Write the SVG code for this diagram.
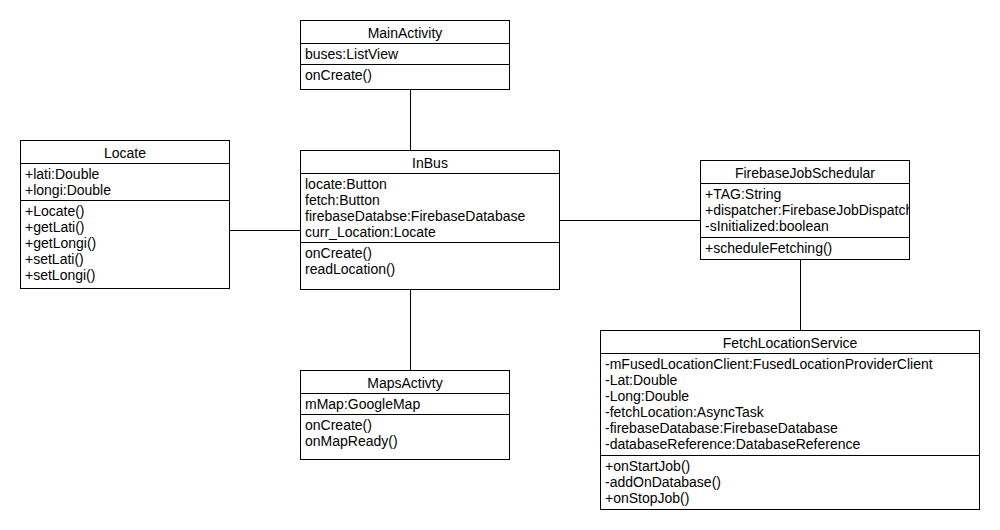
<svg xmlns="http://www.w3.org/2000/svg" width="1000" height="530" viewBox="0 0 1000 530">
  <style>
    .box { fill: #ffffff; stroke: #000000; stroke-width: 1; }
    .sep { stroke: #000000; stroke-width: 1; }
    .conn { stroke: #000000; stroke-width: 1; fill: none; }
    text { font-family: "Liberation Sans", Arial, sans-serif; font-size: 14px; fill: #000000; }
    .title { text-anchor: middle; }
  </style>
  <defs>
    <clipPath id="clipFjs">
      <rect x="700" y="160" width="209" height="99"/>
    </clipPath>
  </defs>
  <rect x="0" y="0" width="1000" height="530" fill="#ffffff"/>

  <!-- associations -->
  <g id="connectors">
    <line class="conn" x1="410.5" y1="90" x2="410.5" y2="150"/>
    <line class="conn" x1="410.5" y1="289" x2="410.5" y2="370"/>
    <line class="conn" x1="229" y1="230.5" x2="300" y2="230.5"/>
    <line class="conn" x1="559" y1="220.5" x2="700" y2="220.5"/>
    <line class="conn" x1="800.5" y1="259" x2="800.5" y2="330"/>
  </g>

  <g id="MainActivity">
    <rect class="box" x="300.5" y="20.5" width="209" height="69"/>
    <line class="sep" x1="300.5" y1="43.5" x2="509.5" y2="43.5"/>
    <line class="sep" x1="300.5" y1="64.5" x2="509.5" y2="64.5"/>
    <text class="title" x="405" y="38">MainActivity</text>
    <text x="305" y="59">buses:ListView</text>
    <text x="305" y="80">onCreate()</text>
  </g>

  <g id="Locate">
    <rect class="box" x="20.5" y="140.5" width="209" height="148"/>
    <line class="sep" x1="20.5" y1="163.5" x2="229.5" y2="163.5"/>
    <line class="sep" x1="20.5" y1="200.5" x2="229.5" y2="200.5"/>
    <text class="title" x="125" y="158">Locate</text>
    <text x="25" y="179">+lati:Double</text>
    <text x="25" y="195">+longi:Double</text>
    <text x="25" y="216">+Locate()</text>
    <text x="25" y="232">+getLati()</text>
    <text x="25" y="248">+getLongi()</text>
    <text x="25" y="264">+setLati()</text>
    <text x="25" y="280">+setLongi()</text>
  </g>

  <g id="InBus">
    <rect class="box" x="300.5" y="150.5" width="259" height="139"/>
    <line class="sep" x1="300.5" y1="173.5" x2="559.5" y2="173.5"/>
    <line class="sep" x1="300.5" y1="242.5" x2="559.5" y2="242.5"/>
    <text class="title" x="430" y="168">InBus</text>
    <text x="305" y="189">locate:Button</text>
    <text x="305" y="205">fetch:Button</text>
    <text x="305" y="221">firebaseDatabse:FirebaseDatabase</text>
    <text x="305" y="237">curr_Location:Locate</text>
    <text x="305" y="258">onCreate()</text>
    <text x="305" y="274">readLocation()</text>
  </g>

  <g id="FirebaseJobSchedular">
    <rect class="box" x="700.5" y="160.5" width="209" height="99"/>
    <line class="sep" x1="700.5" y1="183.5" x2="909.5" y2="183.5"/>
    <line class="sep" x1="700.5" y1="237.5" x2="909.5" y2="237.5"/>
    <text class="title" x="805" y="178">FirebaseJobSchedular</text>
    <g clip-path="url(#clipFjs)">
      <text x="705" y="199">+TAG:String</text>
      <text x="705" y="215">+dispatcher:FirebaseJobDispatcher</text>
      <text x="705" y="231">-sInitialized:boolean</text>
    </g>
    <text x="705" y="253">+scheduleFetching()</text>
  </g>

  <g id="FetchLocationService">
    <rect class="box" x="600.5" y="330.5" width="379" height="179"/>
    <line class="sep" x1="600.5" y1="353.5" x2="979.5" y2="353.5"/>
    <line class="sep" x1="600.5" y1="455.5" x2="979.5" y2="455.5"/>
    <text class="title" x="790" y="348">FetchLocationService</text>
    <text x="605" y="369">-mFusedLocationClient:FusedLocationProviderClient</text>
    <text x="605" y="385">-Lat:Double</text>
    <text x="605" y="401">-Long:Double</text>
    <text x="605" y="417">-fetchLocation:AsyncTask</text>
    <text x="605" y="433">-firebaseDatabase:FirebaseDatabase</text>
    <text x="605" y="449">-databaseReference:DatabaseReference</text>
    <text x="605" y="471">+onStartJob()</text>
    <text x="605" y="487">-addOnDatabase()</text>
    <text x="605" y="503">+onStopJob()</text>
  </g>

  <g id="MapsActivty">
    <rect class="box" x="300.5" y="370.5" width="209" height="89"/>
    <line class="sep" x1="300.5" y1="393.5" x2="509.5" y2="393.5"/>
    <line class="sep" x1="300.5" y1="414.5" x2="509.5" y2="414.5"/>
    <text class="title" x="405" y="388">MapsActivty</text>
    <text x="305" y="409">mMap:GoogleMap</text>
    <text x="305" y="430">onCreate()</text>
    <text x="305" y="446">onMapReady()</text>
  </g>
</svg>
